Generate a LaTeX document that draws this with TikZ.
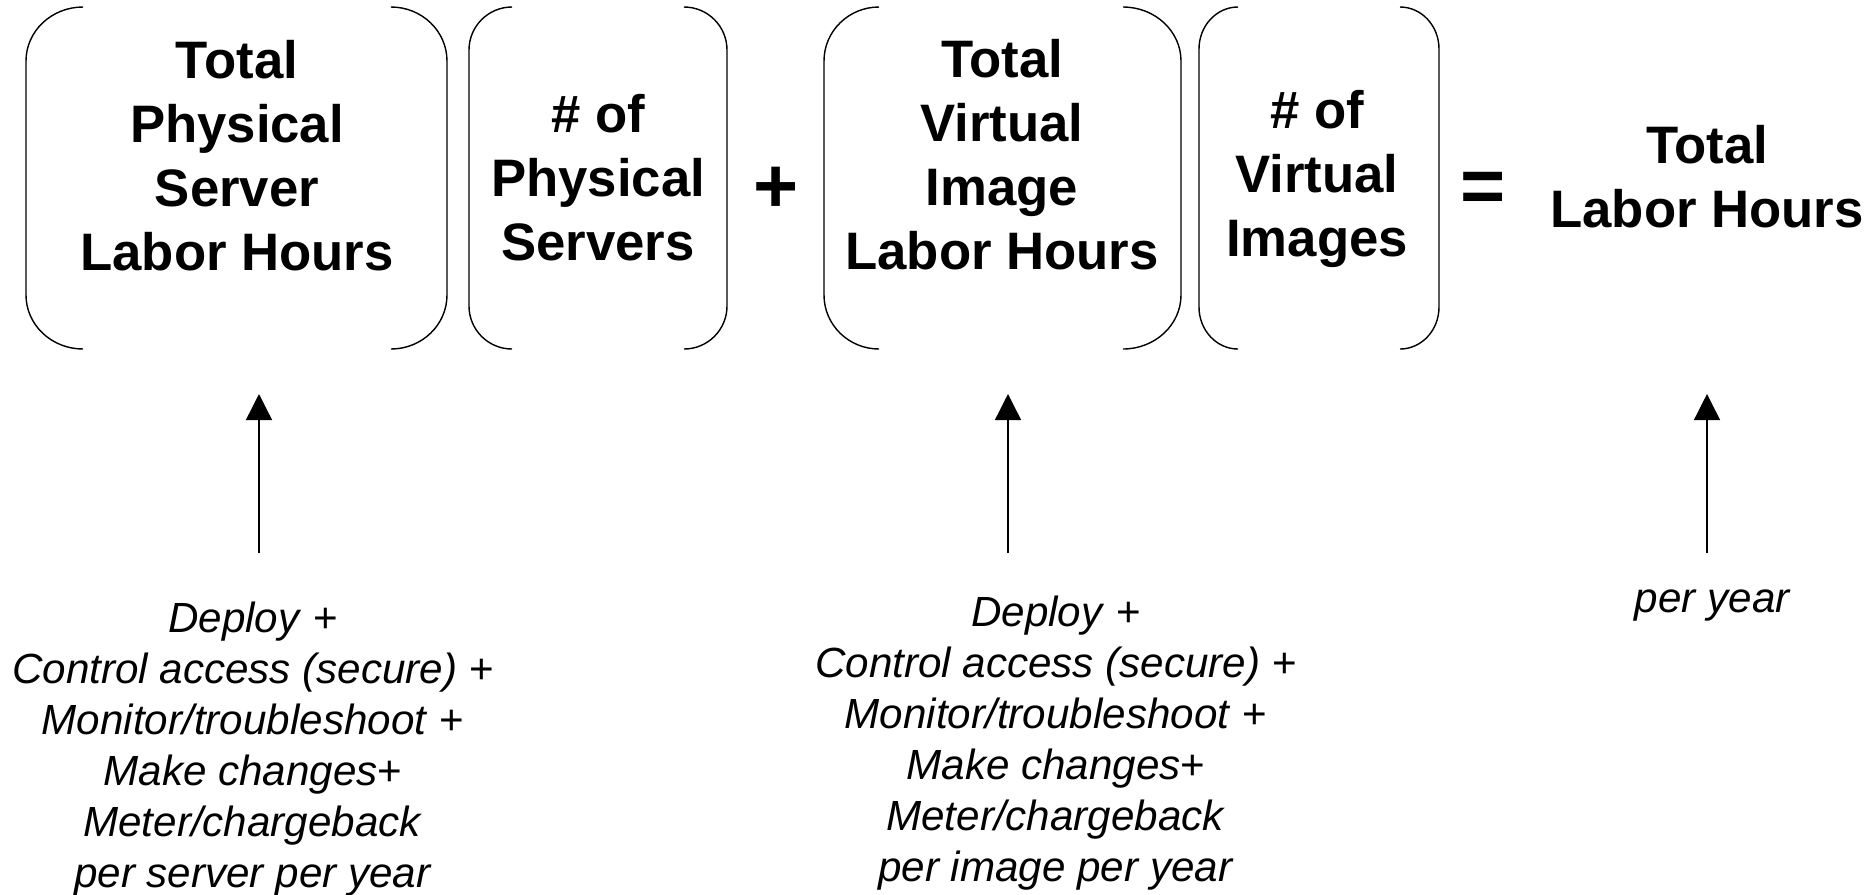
\documentclass[tikz,border=0pt]{standalone}
\usepackage{fontspec}
\setmainfont{Liberation Sans}
\usepackage{tikz}
\usetikzlibrary{arrows.meta}
\usetikzlibrary{positioning}

\tikzset{
  bow/.style={line width=0.4pt},
  head/.style={font=\bfseries\fontsize{15}{18.2}\selectfont, align=center, inner sep=0pt},
  sign/.style={font=\bfseries\fontsize{22}{26}\selectfont, inner sep=0pt},
  note/.style={font=\fontsize{12}{14.5}\selectfont, align=center, inner sep=0pt},
  up/.style={-{Triangle[length=7.4pt,width=7.4pt]}, line width=0.4pt}
}

\begin{document}
\begin{tikzpicture}
            \useasboundingbox (0,0) rectangle (18.73,-8.94);
            % brackets
            \draw[bow] (0.83,-0.07) arc[start angle=90, end angle=180, x radius=0.57, y radius=0.54] -- (0.26,-2.95) arc[start angle=180, end angle=270, x radius=0.57, y radius=0.54];
            \draw[bow] (3.91,-0.07) arc[start angle=90, end angle=0, x radius=0.56, y radius=0.54] -- (4.47,-2.95) arc[start angle=0, end angle=-90, x radius=0.56, y radius=0.54];
            \draw[bow] (5.12,-0.07) arc[start angle=90, end angle=180, x radius=0.43, y radius=0.43] -- (4.69,-3.06) arc[start angle=180, end angle=270, x radius=0.43, y radius=0.43];
            \draw[bow] (6.84,-0.07) arc[start angle=90, end angle=0, x radius=0.43, y radius=0.43] -- (7.27,-3.06) arc[start angle=0, end angle=-90, x radius=0.43, y radius=0.43];
            \draw[bow] (8.79,-0.07) arc[start angle=90, end angle=180, x radius=0.55, y radius=0.54] -- (8.24,-2.95) arc[start angle=180, end angle=270, x radius=0.55, y radius=0.54];
            \draw[bow] (11.23,-0.07) arc[start angle=90, end angle=0, x radius=0.58, y radius=0.54] -- (11.81,-2.95) arc[start angle=0, end angle=-90, x radius=0.58, y radius=0.54];
            \draw[bow] (12.38,-0.07) arc[start angle=90, end angle=180, x radius=0.39, y radius=0.42] -- (11.99,-3.07) arc[start angle=180, end angle=270, x radius=0.39, y radius=0.42];
            \draw[bow] (14.00,-0.07) arc[start angle=90, end angle=0, x radius=0.39, y radius=0.42] -- (14.39,-3.07) arc[start angle=0, end angle=-90, x radius=0.39, y radius=0.42];
            % terms
            \node[head, anchor=north] (physHours) at (2.37,-0.40) {Total\\Physical\\Server\\Labor Hours};
            \node[head, anchor=north] (physCount) at (5.98,-0.94) {\# of\\Physical\\Servers};
            \node[sign] (plus) at (7.76,-1.90) {+};
            \node[head, anchor=north] (virtHours) at (10.02,-0.39) {Total\\Virtual\\Image\\Labor Hours};
            \node[head, anchor=north] (virtCount) at (13.17,-0.90) {\# of\\Virtual\\Images};
            \node[sign] (equals) at (14.83,-1.92) {=};
            \node[head, anchor=north] (totalHours) at (17.07,-1.25) {Total\\Labor Hours};
            % notes
            \node[note, anchor=north] (physNote) at (2.53,-6.01) {\textit{Deploy} +\\\textit{Control access (secure)} +\\\textit{Monitor/troubleshoot} +\\\textit{Make changes}+\\\textit{Meter/chargeback}\\\textit{per server per year}};
            \node[note, anchor=north] (virtNote) at (10.56,-5.95) {\textit{Deploy} +\\\textit{Control access (secure)} +\\\textit{Monitor/troubleshoot} +\\\textit{Make changes}+\\\textit{Meter/chargeback}\\\textit{per image per year}};
            \node[note, anchor=base] (yearNote) at (17.13,-6.12) {\textit{per year}};
            % arrows
            \coordinate (physTail) at (2.59,-5.53);
            \coordinate (physTip) at (2.59,-3.94);
            \coordinate (virtTail) at (10.08,-5.53);
            \coordinate (virtTip) at (10.08,-3.94);
            \coordinate (yearTail) at (17.07,-5.53);
            \coordinate (yearTip) at (17.07,-3.94);
            \draw[up] (physTail) -- (physTip);
            \draw[up] (virtTail) -- (virtTip);
            \draw[up] (yearTail) -- (yearTip);
        \end{tikzpicture}
\end{document}
